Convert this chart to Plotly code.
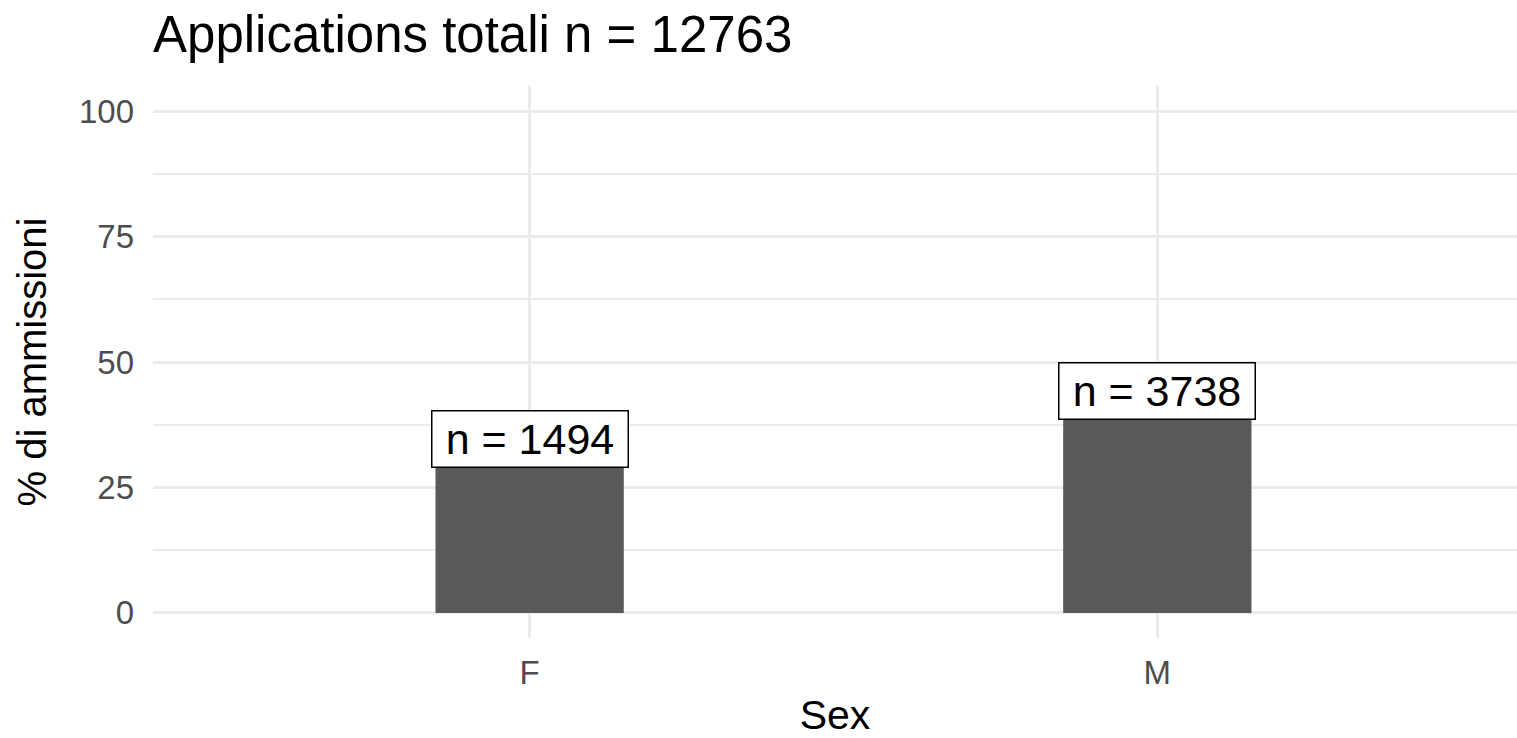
import plotly.graph_objects as go

sex = ["F", "M"]
pct_admitted = [34.6, 44.3]
n_admitted = [1494, 3738]
total_applications = 12763

FONT = "Liberation Sans, Arial, sans-serif"
GRID = "#EBEBEB"

fig = go.Figure()
fig.add_trace(go.Bar(
    x=sex, y=pct_admitted, width=0.3,
    marker=dict(color="#595959", line=dict(width=0)),
    hoverinfo="skip",
))

for s, p, n in zip(sex, pct_admitted, n_admitted):
    fig.add_annotation(
        x=s, y=p, xref="x", yref="y",
        text=f"n = {n}", showarrow=False,
        font=dict(family=FONT, size=43, color="black"),
        bgcolor="white", bordercolor="black", borderwidth=1.5, borderpad=0,
        width=195, height=55, align="center", valign="middle",
        xanchor="center", yanchor="middle",
    )

fig.update_layout(
    width=1517, height=738,
    margin=dict(l=153, r=0, t=86, b=100, pad=0, autoexpand=False),
    paper_bgcolor="white", plot_bgcolor="white",
    showlegend=False,
    font=dict(family=FONT),
    title=dict(
        text=f"Applications totali n = {total_applications}",
        x=0, xref="paper", xanchor="left",
        y=0.954, yref="container", yanchor="middle",
        font=dict(family=FONT, size=51, color="black"),
    ),
    xaxis=dict(
        type="category", range=[-0.6, 1.573], automargin=False,
        showgrid=True, gridcolor=GRID, gridwidth=3,
        showline=False, zeroline=False, ticks="",
        tickfont=dict(family=FONT, size=33, color="#4D4D4D"),
        ticklabelstandoff=12,
        title=dict(text="Sex", font=dict(family=FONT, size=41, color="black"), standoff=23),
    ),
    yaxis=dict(
        range=[-5, 105], tickmode="array", automargin=False,
        tickvals=[0, 25, 50, 75, 100],
        showgrid=True, gridcolor=GRID, gridwidth=3,
        minor=dict(tickmode="array", tickvals=[12.5, 37.5, 62.5, 87.5],
                   showgrid=True, gridcolor=GRID, gridwidth=2),
        showline=False, zeroline=False, ticks="",
        tickfont=dict(family=FONT, size=33, color="#4D4D4D"),
        ticklabelstandoff=18,
        title=dict(text="% di ammissioni", font=dict(family=FONT, size=40, color="black"), standoff=19),
    ),
)

# remove the default 8px page margin so the figure fills the window exactly
fig.write_html(
    "out.html",
    config={"displayModeBar": False},
    post_script="document.body.style.margin='0';document.body.style.overflow='hidden';",
)
